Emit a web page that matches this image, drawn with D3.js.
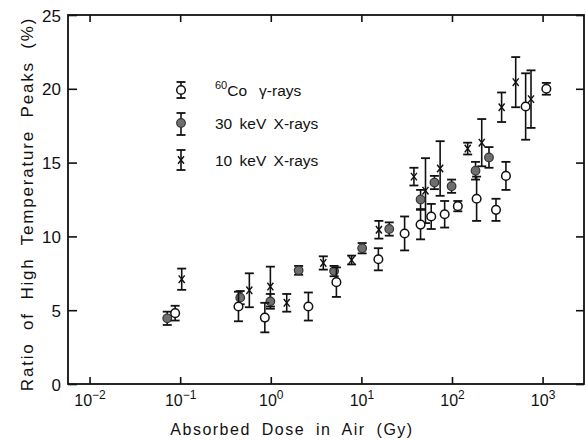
<!DOCTYPE html>
<html>
<head>
<meta charset="utf-8">
<script src="https://cdn.jsdelivr.net/npm/d3@7"></script>
<style>
  body { margin: 0; background: #fff; }
  text { font-family: "Liberation Sans", Arial, sans-serif; fill: #111; }
</style>
</head>
<body>
<svg id="chart" width="586" height="443"></svg>
<script>
// 60Co gamma rays (open circles)
const coDose = [0.088, 0.44, 0.86, 2.6, 5.3, 15.4, 30, 45, 59, 83, 116, 187, 306, 394, 650, 1100];
const coRatio = [4.8, 5.25, 4.5, 5.25, 6.9, 8.45, 10.2, 10.8, 11.35, 11.5, 12.05, 12.55, 11.8, 14.1, 18.8, 20.0];
const coErr = [0.5, 1.0, 1.0, 0.95, 1.0, 0.75, 1.15, 1.0, 0.85, 0.9, 0.35, 1.5, 0.75, 0.95, 2.25, 0.4];

// 30 keV X-rays (filled circles)
const kv30Dose = [0.072, 0.46, 0.99, 2.03, 5.0, 10.2, 20.3, 45, 64, 99, 182, 256];
const kv30Ratio = [4.45, 5.85, 5.6, 7.7, 7.65, 9.2, 10.5, 12.5, 13.65, 13.4, 14.45, 15.35];
const kv30Err = [0.45, 0.45, 0.5, 0.3, 0.35, 0.35, 0.45, 0.65, 0.45, 0.45, 0.6, 0.7];

// 10 keV X-rays (crosses)
const kv10Dose = [0.104, 0.58, 0.99, 1.5, 3.8, 7.8, 15.6, 38, 51, 74, 149, 213, 353, 505, 745];
const kv10Ratio = [7.1, 6.35, 6.6, 5.5, 8.2, 8.4, 10.45, 14.05, 13.1, 14.6, 15.95, 16.35, 18.75, 20.45, 19.3];
const kv10Err = [0.72, 1.15, 1.35, 0.6, 0.45, 0.3, 0.6, 0.6, 2.2, 1.85, 0.4, 1.6, 1.0, 1.7, 1.95];

const xTicks = [-2, -1, 0, 1, 2, 3];
const yTicks = [0, 5, 10, 15, 20, 25];

const pl = 68, pr = 584, pt = 15, pb = 384;

const svg = d3.select('#chart');

const x = d3.scaleLog()
  .domain([Math.pow(10, -2.238), Math.pow(10, 3.457)])
  .range([pl, pr]);

const y = d3.scaleLinear()
  .domain([0, 25])
  .range([pb, pt]);

// frame
svg.append('rect')
  .attr('x', pl).attr('y', pt)
  .attr('width', pr - pl).attr('height', pb - pt)
  .attr('fill', 'none').attr('stroke', '#111').attr('stroke-width', 1.8);

// inward ticks on all four sides
const tickVals = xTicks.map(p => Math.pow(10, p));

const xb = svg.append('g')
  .attr('transform', `translate(0,${pb})`)
  .call(d3.axisBottom(x).tickValues(tickVals).tickSize(-7).tickFormat(''));
svg.append('g')
  .attr('transform', `translate(0,${pt})`)
  .call(d3.axisTop(x).tickValues(tickVals).tickSize(-7).tickFormat(''));
const yl = svg.append('g')
  .attr('transform', `translate(${pl},0)`)
  .call(d3.axisLeft(y).tickValues(yTicks).tickSize(-9).tickFormat(''));
svg.append('g')
  .attr('transform', `translate(${pr},0)`)
  .call(d3.axisRight(y).tickValues(yTicks).tickSize(-8).tickFormat(''));

svg.selectAll('.domain').remove();
svg.selectAll('.tick line').attr('stroke', '#111').attr('stroke-width', 1.6);
svg.selectAll('.tick text').remove();

// x tick labels 10^n
xb.selectAll('.tick').each(function(d, i) {
  const t = d3.select(this).append('text')
    .attr('y', 22)
    .attr('text-anchor', 'middle')
    .attr('fill', '#111')
    .style('font-size', '16px');
  t.append('tspan').text('10');
  t.append('tspan')
    .attr('dy', -7)
    .style('font-size', '12px')
    .text(xTicks[i] < 0 ? '\u2212' + Math.abs(xTicks[i]) : xTicks[i]);
});

// y tick labels
yl.selectAll('.tick').append('text')
  .attr('x', -7)
  .attr('dy', '0.36em')
  .attr('text-anchor', 'end')
  .attr('fill', '#111')
  .style('font-size', '17px')
  .text(d => d);

// axis titles
svg.append('text')
  .attr('x', 292).attr('y', 435)
  .attr('text-anchor', 'middle')
  .style('font-size', '16px')
  .style('letter-spacing', '1.5px')
  .style('word-spacing', '5px')
  .text('Absorbed Dose in Air (Gy)');

svg.append('text')
  .attr('transform', 'translate(33,204) rotate(-90)')
  .attr('text-anchor', 'middle')
  .style('font-size', '17px')
  .style('letter-spacing', '1.8px')
  .style('word-spacing', '6px')
  .text('Ratio of High Temperature Peaks (%)');

// drawing helpers
function errBar(g, cx, y0, y1) {
  g.append('line').attr('x1', cx).attr('x2', cx).attr('y1', y0).attr('y2', y1)
    .attr('stroke', '#111').attr('stroke-width', 1.6);
  [y0, y1].forEach(v => {
    g.append('line').attr('x1', cx - 4.5).attr('x2', cx + 4.5).attr('y1', v).attr('y2', v)
      .attr('stroke', '#111').attr('stroke-width', 1.8);
  });
}

function marker(g, kind, cx, cy) {
  if (kind === 'open') {
    g.append('circle').attr('cx', cx).attr('cy', cy).attr('r', 4.3)
      .attr('fill', '#fff').attr('stroke', '#111').attr('stroke-width', 1.5);
  } else if (kind === 'filled') {
    g.append('circle').attr('cx', cx).attr('cy', cy).attr('r', 4.3)
      .attr('fill', '#6e6e6e').attr('stroke', '#333').attr('stroke-width', 1.2);
  } else {
    const a = 3, b = 3.8;
    g.append('path')
      .attr('d', `M${cx - a},${cy - b}L${cx + a},${cy + b}M${cx + a},${cy - b}L${cx - a},${cy + b}`)
      .attr('stroke', '#111').attr('stroke-width', 1.4).attr('fill', 'none');
  }
}

function series(dose, ratio, err, kind) {
  const g = svg.append('g');
  dose.forEach((d, i) => {
    errBar(g, x(d), y(ratio[i] + err[i]), y(ratio[i] - err[i]));
  });
  dose.forEach((d, i) => marker(g, kind, x(d), y(ratio[i])));
}

series(kv10Dose, kv10Ratio, kv10Err, 'cross');
series(kv30Dose, kv30Ratio, kv30Err, 'filled');
series(coDose, coRatio, coErr, 'open');

// legend
const lg = svg.append('g');
const legendRows = [
  { kind: 'open', y: 90, up: 8, down: 8 },
  { kind: 'filled', y: 123, up: 10, down: 12 },
  { kind: 'cross', y: 160, up: 10, down: 10 }
];
legendRows.forEach(r => {
  errBar(lg, 181, r.y - r.up, r.y + r.down);
  marker(lg, r.kind, 181, r.y);
});

const t0 = lg.append('text').attr('x', 215).attr('y', 96).style('font-size', '15.5px');
t0.append('tspan').attr('dy', -7).style('font-size', '11px').text('60');
t0.append('tspan').attr('dy', 7).text('Co');
t0.append('tspan').attr('dx', 12).text('\u03b3-rays');

lg.append('text').attr('x', 215).attr('y', 129).style('font-size', '15.5px')
  .style('word-spacing', '3px').text('30 keV X-rays');
lg.append('text').attr('x', 215).attr('y', 166).style('font-size', '15.5px')
  .style('word-spacing', '3px').text('10 keV X-rays');
</script>
</body>
</html>
